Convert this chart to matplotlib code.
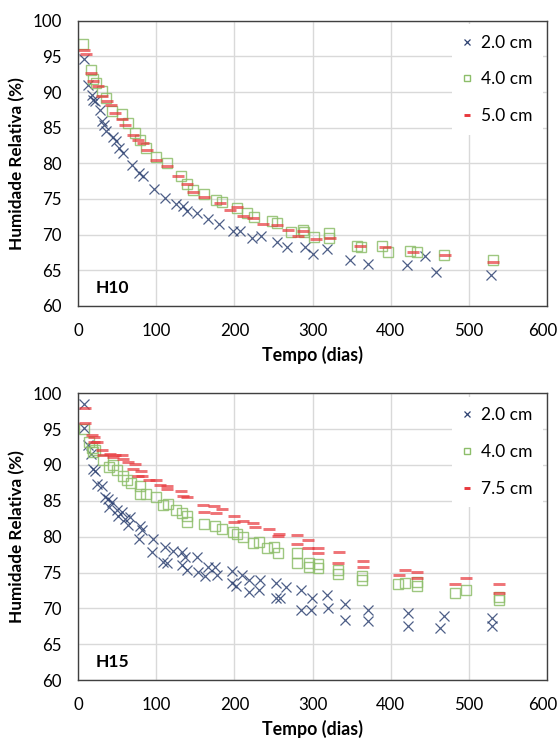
import numpy as np
import matplotlib
matplotlib.use("Agg")
import matplotlib.pyplot as plt
from matplotlib.transforms import ScaledTranslation

plt.rcParams['font.family'] = ['Lato', 'DejaVu Sans']

# ---- H10 data ----
h10_x20 = [7.3, 12.8, 17, 19, 21, 28, 31, 33, 36, 44, 48, 52.5, 57.6, 68.4, 77.8, 82.5, 97, 111,
           125, 133.7, 139.6, 152.4, 166.5, 180, 198.5, 207, 222, 233.6, 254, 267, 290, 301, 319,
           348, 371.5, 420.6, 444, 457.8, 528]
h10_y20 = [94.6, 91.0, 89.6, 88.9, 88.7, 87.5, 86.0, 85.4, 84.5, 83.7, 83.1, 82.1, 81.4, 79.8, 78.7,
           78.2, 76.4, 75.1, 74.3, 74.0, 73.3, 73.1, 72.2, 71.5, 70.5, 70.5, 69.5, 69.8, 69.0, 68.3,
           68.3, 67.3, 68.0, 66.5, 65.9, 65.7, 67.0, 64.7, 64.3]

h10_x40 = [6.4, 15.9, 19.2, 22.3, 30.8, 35.5, 42.8, 55.6, 64, 72.6, 79, 86.7, 99.5, 113.2, 131.5,
           139.6, 147.3, 161.4, 176, 184.5, 203, 215.7, 225, 248.5, 254, 273, 289, 302.3, 288, 321.5,
           321.5, 356.6, 362, 388.6, 397, 425, 433.5, 469, 531]
h10_y40 = [96.7, 93.1, 91.8, 91.3, 90.1, 89.1, 87.3, 86.9, 85.7, 84.3, 83.3, 82.1, 80.9, 80.0, 78.2,
           77.1, 76.3, 75.7, 74.9, 74.6, 73.7, 73.0, 72.5, 71.9, 71.7, 70.4, 70.4, 69.7, 70.7, 70.2,
           69.5, 68.4, 68.2, 68.4, 67.6, 67.7, 67.6, 67.1, 66.4]

h10_x50 = [7.3, 9.9, 15.9, 19.2, 25.6, 31, 36.4, 41.9, 47, 55.6, 59.8, 70.5, 76.9, 83.3, 87.6, 99.5,
           113.2, 128, 138.8, 146.5, 161, 181.5, 194.3, 203, 211.3, 224, 237, 254, 269, 282, 288,
           304, 322, 361, 393, 429, 470, 531]
h10_y50 = [95.9, 95.3, 92.7, 91.5, 90.9, 89.5, 88.8, 88.2, 87.0, 86.2, 85.4, 84.0, 83.2, 82.8, 81.9,
           80.5, 79.6, 78.2, 77.1, 76.0, 75.3, 74.4, 73.5, 73.9, 72.6, 72.3, 71.5, 71.4, 70.7, 69.8,
           70.5, 69.4, 69.5, 68.4, 68.2, 67.6, 67.1, 66.2]

# ---- H15 data ----
h15_x20 = [7.3, 7.3, 12.8, 15.9, 19.2, 21.4, 23.6, 30, 34.2, 38.4, 42.8, 39.7, 49.2, 55.6, 51.2, 59.8,
           64, 66.2, 79, 81.2, 78.1, 96, 94, 111, 108.8, 114, 121.7, 132.4, 136.7, 132.4, 139, 151.7,
           153.7, 162.3, 166.5, 175, 177.3, 196.5, 196.5, 209.3, 201.6, 219, 219, 232.7, 231.9, 253,
           253, 259, 266, 284.8, 284.8, 299, 297.7, 318, 320, 341.6, 341.6, 371.5, 371.5, 422.7,
           422.7, 468.4, 463.3, 529.5, 529.5]
h15_y20 = [98.5, 95.1, 92.8, 91.6, 89.5, 89.1, 87.4, 87.0, 85.6, 85.3, 84.9, 84.2, 83.7, 83.5, 82.9,
           82.4, 81.6, 82.8, 81.5, 80.9, 79.7, 79.7, 77.9, 78.6, 76.5, 76.3, 78.0, 77.9, 77.2, 76.0,
           75.3, 77.2, 75.1, 74.5, 75.8, 75.8, 74.6, 75.2, 73.5, 74.6, 73.1, 74.0, 72.3, 74.0, 72.5,
           73.5, 71.4, 71.4, 73.0, 72.6, 69.8, 71.5, 69.8, 71.8, 70.0, 70.6, 68.4, 69.7, 68.2, 69.3,
           67.6, 69.0, 67.3, 68.7, 67.6]

h15_x40 = [7.3, 14.2, 17.2, 19.2, 21.4, 32, 39.7, 44, 49.2, 56.9, 62, 67.5, 79, 79, 86.7, 99.5, 108.8,
           114.5, 125, 132.4, 139, 139.6, 161.4, 175, 183.7, 198.5, 203, 211.3, 224, 232, 241.3, 251,
           256, 280, 280, 295, 295, 307.4, 307.4, 333, 333, 364, 364, 410, 418.5, 433.5, 433.5,
           482.5, 497, 539, 539]
h15_y40 = [95.0, 93.2, 92.3, 91.8, 92.1, 90.7, 89.7, 90.0, 89.3, 88.4, 87.9, 87.5, 87.0, 86.0, 86.0,
           85.5, 84.4, 84.5, 83.7, 83.3, 82.9, 82.1, 81.8, 81.5, 81.0, 80.7, 80.4, 79.9, 79.1, 79.3,
           78.4, 78.5, 77.7, 77.7, 76.3, 76.3, 75.7, 76.2, 75.6, 75.3, 74.8, 74.5, 74.0, 73.4, 73.5,
           73.7, 73.1, 72.2, 72.5, 71.6, 71.1]

h15_x75 = [8.6, 8.6, 17.2, 20, 20, 23.6, 30.7, 40.6, 32, 47, 55.6, 44.8, 57.6, 64, 72.6, 70.5, 79.9,
           76.9, 81.2, 91, 99.5, 104.7, 114, 114, 131, 134.5, 139.6, 160, 174, 183.7, 161.4, 176,
           199.4, 211.3, 199.4, 224, 226.3, 244.6, 257.5, 256, 279.7, 279.7, 294.6, 294.6, 307.4,
           307.4, 334.3, 332.3, 364.3, 364.3, 411, 418.5, 433.5, 433.5, 482.5, 497, 539, 539]
h15_y75 = [97.9, 95.8, 94.2, 93.9, 93.2, 93.2, 92.1, 91.6, 91.4, 91.4, 91.4, 91.1, 90.9, 90.4, 90.1,
           89.5, 89.1, 88.5, 88.5, 87.9, 87.9, 87.2, 87.1, 86.6, 86.4, 85.7, 85.5, 84.4, 84.3, 83.8,
           83.5, 83.3, 82.9, 82.2, 82.1, 81.9, 81.3, 81.0, 80.4, 80.1, 80.3, 79.0, 79.5, 78.4, 77.7,
           78.4, 77.9, 76.3, 76.6, 75.7, 74.6, 75.4, 75.1, 74.3, 73.4, 74.3, 73.4, 72.2]

BLUE = '#2E4272'
GREEN = '#8DBE6A'
RED = '#E8383D'
GRID = '#D9D9D9'
FRAME = '#404040'


def draw_panel(fig, ax, series, tag):
    (xa, ya, la), (xb, yb, lb), (xc, yc, lc) = series
    ax.plot(xa, ya, linestyle='none', marker='x', ms=6.5, mew=0.9, color=BLUE, alpha=0.85, label=la)
    ax.plot(xb, yb, linestyle='none', marker='s', ms=7.5, mew=1.0, mfc='none', mec=GREEN,
            alpha=0.85, label=lb)
    ax.plot(xc, yc, linestyle='none', marker='_', ms=8.5, mew=2.1, color=RED, alpha=0.7, label=lc)

    ax.set_xlim(0, 600)
    ax.set_ylim(60, 100)
    ax.set_xticks(np.arange(0, 601, 100))
    ax.set_yticks(np.arange(60, 101, 5))
    ax.grid(True, color=GRID, linewidth=1.0)
    ax.set_axisbelow(True)
    ax.tick_params(length=0, labelsize=12.2, pad=12, colors='black')
    for sp in ax.spines.values():
        sp.set_color(FRAME)
        sp.set_linewidth(1.0)

    # last x tick label sits at the figure edge, nudge it a bit left
    last = ax.get_xticklabels()[-1]
    last.set_transform(last.get_transform() + ScaledTranslation(-3 / 72, 0, fig.dpi_scale_trans))

    ax.set_xlabel('Tempo (dias)', fontsize=12.8, fontweight='bold', labelpad=5)
    ax.set_ylabel('Humidade Relativa (%)', fontsize=12.3, fontweight='bold', labelpad=5)
    ax.text(0.038, 0.045, tag, transform=ax.transAxes, fontsize=12.5, fontweight='bold')

    leg = ax.legend(loc='upper right', bbox_to_anchor=(1.0, 1.0), frameon=True, fontsize=12.5,
                    handlelength=0.6, handletextpad=0.5, labelspacing=1.2, borderpad=0.6,
                    borderaxespad=0.2, fancybox=False)
    leg.get_frame().set_facecolor('white')
    leg.get_frame().set_edgecolor('none')
    leg.get_frame().set_alpha(1.0)
    for h in leg.legend_handles:
        h.set_markersize(5)
        h.set_alpha(1.0)


fig = plt.figure(figsize=(5.6, 7.39), dpi=100)
ax1 = fig.add_axes([0.1398, 0.586, 0.8365, 0.386])
ax2 = fig.add_axes([0.1398, 0.0798, 0.8365, 0.388])

draw_panel(fig, ax1, [(h10_x20, h10_y20, '2.0 cm'), (h10_x40, h10_y40, '4.0 cm'),
                      (h10_x50, h10_y50, '5.0 cm')], 'H10')
draw_panel(fig, ax2, [(h15_x20, h15_y20, '2.0 cm'), (h15_x40, h15_y40, '4.0 cm'),
                      (h15_x75, h15_y75, '7.5 cm')], 'H15')

fig.savefig('out.png', dpi=100)
